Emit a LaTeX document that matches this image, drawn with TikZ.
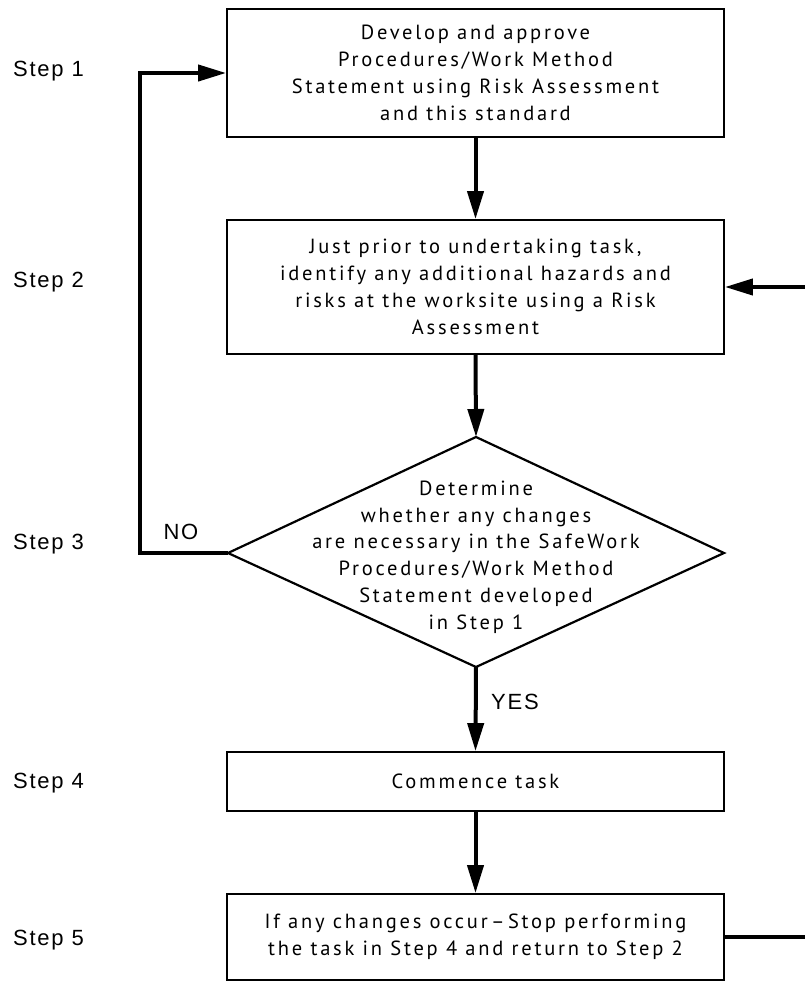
\documentclass[tikz,border=0pt]{standalone}
\usepackage{fontspec}
\setmainfont{PT Sans}[LetterSpace=13.5]
\newfontfamily\lblfont{Liberation Sans}[LetterSpace=8]
\usetikzlibrary{arrows.meta}
\begin{document}
\begin{tikzpicture}[x=1pt,y=-1pt,
  box/.style={draw, line width=1.8pt, inner sep=0pt, align=center, minimum width=497pt, font=\fontsize{20.5}{27}\selectfont},
  dtxt/.style={inner sep=0pt, align=center, font=\fontsize{20.5}{26.8}\selectfont},
  conn/.style={line width=4pt, line join=miter, -{Triangle[length=28pt,width=16pt]}},
  plain/.style={line width=4pt},
  lbl/.style={font=\lblfont\fontsize{22}{26}\selectfont, inner sep=0pt, anchor=west}]
\useasboundingbox (0,0) rectangle (805,983);
\fill[white] (0,0) rectangle (805,983);

\node[box, minimum height=128pt] (b1) at (475.5,73)
  {Develop and approve\\Procedures/Work Method\\Statement using Risk Assessment\\and this standard};
\node[box, minimum height=134pt] (b2) at (475.5,287)
  {Just prior to undertaking task,\\identify any additional hazards and\\risks at the worksite using a Risk\\Assessment};

\coordinate (dt) at (476,437);
\coordinate (dl) at (228,553);
\coordinate (dr) at (724,553);
\coordinate (db) at (476,667);
\draw[line width=2.2pt, line join=miter] (dt) -- (dr) -- (db) -- (dl) -- cycle;
\node[dtxt] (dtext) at (476,557)
  {Determine\\whether any changes\\are necessary in the SafeWork\\Procedures/Work Method\\Statement developed\\in Step 1};

\node[box, minimum height=59pt] (b4) at (475.5,781.5) {Commence task};
\node[box, minimum height=86pt] (b5) at (475.5,937)
  {If any changes occur\,--\,Stop performing\\the task in Step 4 and return to Step 2};

\draw[conn] (b1.south) -- (b2.north);
\draw[conn] (b2.south) -- (dt);
\draw[conn] (db) -- (b4.north);
\draw[conn] (b4.south) -- (b5.north);

\coordinate (nl) at (140,553);
\coordinate (nt) at (140,73);
\draw[conn] (dl) -- (nl) -- (nt) -- (b1.west);
\node[lbl, anchor=center] (no) at (181,532) {NO};
\node[lbl, anchor=center] (yes) at (515,702) {YES};

\coordinate (r2) at (805,287);
\draw[conn] (r2) -- (b2.east);
\coordinate (r5) at (805,937);
\draw[plain] (b5.east) -- (r5);

\node[lbl] (s1) at (13,71) {Step 1};
\node[lbl] (s2) at (13,282) {Step 2};
\node[lbl] (s3) at (13,544) {Step 3};
\node[lbl] (s4) at (13,783) {Step 4};
\node[lbl] (s5) at (13,940) {Step 5};
\end{tikzpicture}
\end{document}
